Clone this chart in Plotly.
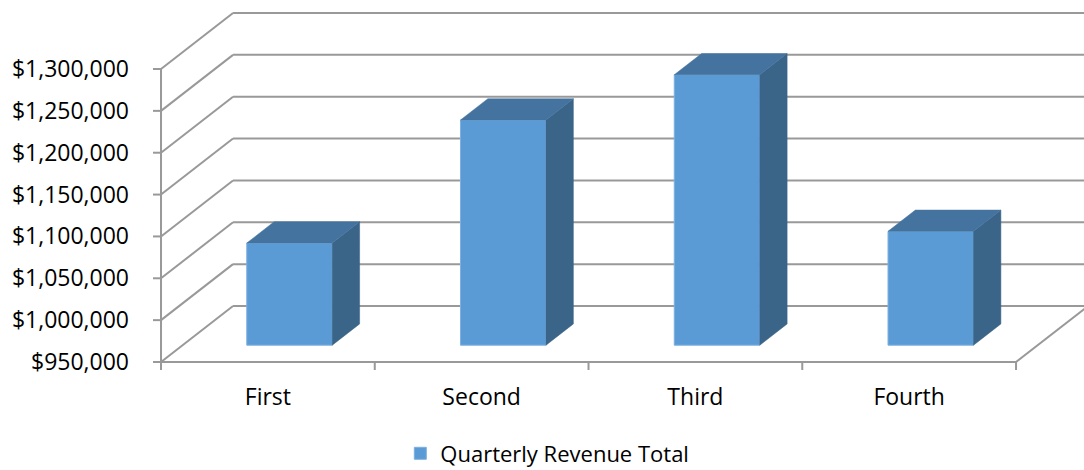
import plotly.graph_objects as go

# ---- data -------------------------------------------------------------
quarters = ["First", "Second", "Third", "Fourth"]
revenue = [1072000, 1219000, 1273000, 1086000]
series_name = "Quarterly Revenue Total"
tick_values = [950000, 1000000, 1050000, 1100000, 1150000, 1200000, 1250000, 1300000]
tick_labels = ["$950,000", "$1,000,000", "$1,050,000", "$1,100,000",
               "$1,150,000", "$1,200,000", "$1,250,000", "$1,300,000"]

# ---- oblique projection settings ---------------------------------------
Y_BASE = tick_values[0]
Y_TOP = tick_values[-1]
X_RANGE = [-0.0515, 4.318]
Y_RANGE = [928500, 1376450]
DEPTH_X = 0.337        # receding offset of the back wall (category units)
DEPTH_Y = 66900        # receding offset of the back wall (value units)
BAR_FRONT = 0.30       # depth fraction where a column's front face sits
BAR_DEPTH = 0.38       # depth fraction a column occupies
BAR_WIDTH = 0.40
TICK_DX = 0.0374
TICK_DY = 9556

GRID = "#999999"
FRONT = "#5B9BD5"
TOP = "#44739F"
SIDE = "#3A6488"
FONT = "Open Sans"

shapes = []


def seg(x0, y0, x1, y1):
    shapes.append(dict(type="line", xref="x", yref="y", x0=x0, y0=y0, x1=x1, y1=y1,
                       layer="below", line=dict(color=GRID, width=2)))


# side wall diagonals and back wall gridlines
for v in tick_values:
    seg(0, v, DEPTH_X, v + DEPTH_Y)
    seg(DEPTH_X, v + DEPTH_Y, X_RANGE[1] + 0.2, v + DEPTH_Y)
    seg(-TICK_DX, v, 0, v)

n = len(quarters)
# floor front edge and right edge
seg(0, Y_BASE, n, Y_BASE)
seg(n, Y_BASE, n + DEPTH_X, Y_BASE + DEPTH_Y)
# vertical value axis
seg(0, Y_BASE - TICK_DY, 0, Y_TOP)
# category separators
for k in range(1, n + 1):
    seg(k, Y_BASE, k, Y_BASE - TICK_DY)

fig = go.Figure()

# side and top faces of each column
for i, v in enumerate(revenue):
    xl = i + 0.5 + DEPTH_X * BAR_FRONT - BAR_WIDTH / 2
    xr = xl + BAR_WIDTH
    yb = Y_BASE + DEPTH_Y * BAR_FRONT
    yt = v + DEPTH_Y * BAR_FRONT
    ddx = DEPTH_X * BAR_DEPTH
    ddy = DEPTH_Y * BAR_DEPTH
    fig.add_trace(go.Scatter(
        x=[xr, xr + ddx, xr + ddx, xr, xr],
        y=[yb, yb + ddy, yt + ddy, yt, yb],
        fill="toself", fillcolor=SIDE, mode="lines",
        line=dict(color=SIDE, width=0.5), showlegend=False, hoverinfo="skip"))
    fig.add_trace(go.Scatter(
        x=[xl, xr, xr + ddx, xl + ddx, xl],
        y=[yt, yt, yt + ddy, yt + ddy, yt],
        fill="toself", fillcolor=TOP, mode="lines",
        line=dict(color=TOP, width=0.5), showlegend=False, hoverinfo="skip"))

# front faces
fig.add_trace(go.Bar(
    x=[i + 0.5 + DEPTH_X * BAR_FRONT for i in range(n)],
    y=[v - Y_BASE for v in revenue],
    base=Y_BASE + DEPTH_Y * BAR_FRONT,
    width=BAR_WIDTH,
    name=series_name,
    marker=dict(color=FRONT, line=dict(color="#7EB1E0", width=1)),
    customdata=revenue,
    hovertemplate="%{customdata:$,.0f}<extra></extra>",
))

fig.update_layout(
    width=1084, height=470,
    margin=dict(l=150, r=0, t=5, b=90, autoexpand=False),
    paper_bgcolor="white", plot_bgcolor="white",
    font=dict(family=FONT, size=23, color="#000000"),
    shapes=shapes,
    showlegend=True,
    legend=dict(orientation="h", x=0.268, xanchor="left", y=-0.196, yanchor="middle",
                font=dict(size=22), itemwidth=30),
    xaxis=dict(range=X_RANGE, showgrid=False, zeroline=False, showline=False,
               tickvals=[i + 0.5 for i in range(n)], ticktext=quarters,
               ticks="", ticklabelstandoff=1, fixedrange=True),
    yaxis=dict(range=Y_RANGE, showgrid=False, zeroline=False, showline=False,
               tickvals=tick_values, ticktext=tick_labels,
               ticks="", ticklabelstandoff=20, fixedrange=True),
)

fig.write_html("out.html")
